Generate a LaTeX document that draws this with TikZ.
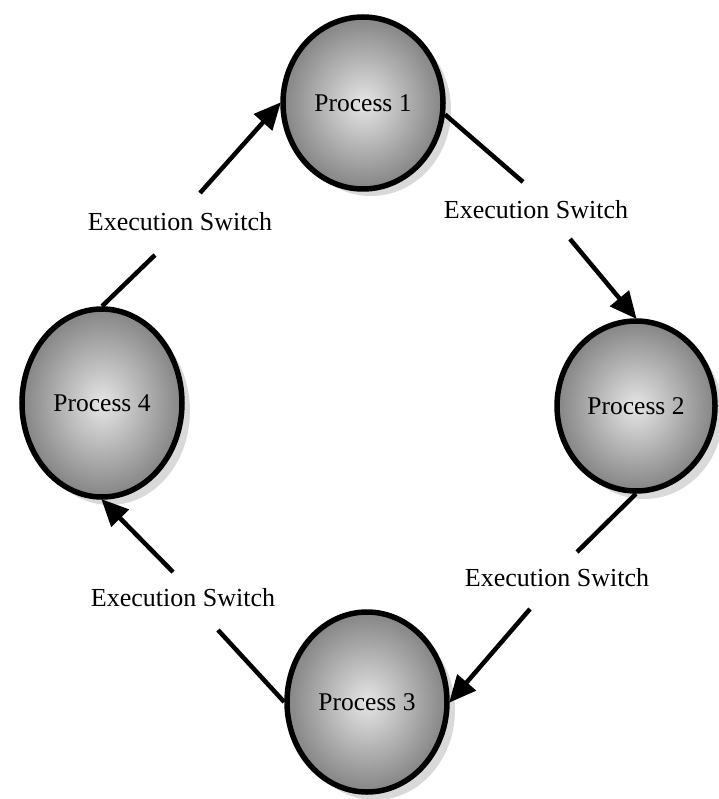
\documentclass[tikz,border=0pt]{standalone}
\usepackage{fontspec}
\setmainfont{Liberation Serif}
\usetikzlibrary{shapes.geometric,arrows.meta}
\begin{document}
\begin{tikzpicture}[x=1pt,y=1pt,
  proc/.style={ellipse, draw=black, line width=5.5pt, inner color=black!10, outer color=black!48,
    font=\fontsize{25.5}{30}\selectfont, inner sep=0pt},
  lbl/.style={font=\fontsize{26}{30}\selectfont, inner sep=0pt},
  conn/.style={line width=4.5pt},
  arr/.style={conn, -{Triangle[length=27pt,width=24pt]}, shorten >=-1pt}]
\useasboundingbox (0,0) rectangle (718,-799);
% soft shadows
\fill[black!15] (371,-110) ellipse [x radius=80, y radius=86];
\fill[black!15] (644,-414) ellipse [x radius=79, y radius=85];
\fill[black!15] (375,-710) ellipse [x radius=80, y radius=90];
\fill[black!15] (110,-411) ellipse [x radius=80, y radius=94];
% processes
\node[proc, minimum width=160pt, minimum height=172pt] (p1) at (363,-103) {Process 1};
\node[proc, minimum width=158pt, minimum height=170pt] (p2) at (636,-406) {Process 2};
\node[proc, minimum width=160pt, minimum height=180pt] (p3) at (367,-702) {Process 3};
\node[proc, minimum width=160pt, minimum height=188pt] (p4) at (102,-403) {Process 4};
% labels
\node[lbl] (la) at (180,-222) {Execution Switch};
\node[lbl] (lb) at (536,-210) {Execution Switch};
\node[lbl] (lc) at (557,-578) {Execution Switch};
\node[lbl] (ld) at (183,-598) {Execution Switch};
% gap ends
\coordinate (a1) at (155,-255); \coordinate (a2) at (200,-193);
\coordinate (b1) at (523,-182); \coordinate (b2) at (570,-239);
\coordinate (c1) at (577,-552); \coordinate (c2) at (530,-609);
\coordinate (d1) at (218,-630); \coordinate (d2) at (173,-572);
% connectors
\draw[conn] (p4.north) -- (a1);
\draw[arr] (a2) -- (p1.west);
\draw[conn] (p1.-8) -- (b1);
\draw[arr] (b2) -- (p2.north);
\draw[conn] (p2.south) -- (c1);
\draw[arr] (c2) -- (p3.east);
\draw[conn] (p3.west) -- (d1);
\draw[arr] (d2) -- (p4.south);
\end{tikzpicture}
\end{document}
